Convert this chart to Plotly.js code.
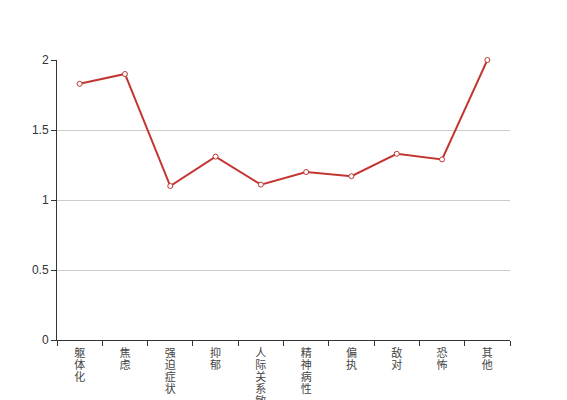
<!DOCTYPE html>
<html>
<head>
<meta charset="utf-8">
<script src="https://cdn.plot.ly/plotly-3.0.1.min.js"></script>
<style>
  html, body { margin: 0; padding: 0; background: #fff; }
  #chart { width: 567px; height: 400px; }
</style>
</head>
<body>
<div id="chart"></div>
<script>
var categories = ["躯体化", "焦虑", "强迫症状", "抑郁", "人际关系敏感", "精神病性", "偏执", "敌对", "恐怖", "其他"];
var values = [1.83, 1.9, 1.1, 1.31, 1.11, 1.2, 1.17, 1.33, 1.29, 2.0];
var yTicks = [0, 0.5, 1, 1.5, 2];

var verticalLabels = categories.map(function (c) { return c.split("").join("<br>"); });

var trace = {
  type: "scatter",
  mode: "lines+markers",
  x: categories,
  y: values,
  line: { color: "#c23531", width: 2 },
  marker: { symbol: "circle", size: 5, color: "#ffffff", line: { color: "#c23531", width: 1 } },
  cliponaxis: false,
  hoverinfo: "x+y"
};

var layout = {
  width: 567,
  height: 400,
  margin: { l: 57, r: 57, t: 60, b: 60, pad: 0 },
  paper_bgcolor: "#ffffff",
  plot_bgcolor: "#ffffff",
  showlegend: false,
  font: { family: "Liberation Sans, Noto Sans CJK SC, sans-serif", size: 12, color: "#333333" },
  xaxis: {
    type: "category",
    tickmode: "array",
    tickvals: categories,
    ticktext: verticalLabels,
    showgrid: false,
    zeroline: false,
    showline: true,
    linecolor: "#333333",
    linewidth: 1,
    ticks: "outside",
    tickson: "boundaries",
    ticklen: 5,
    tickcolor: "#333333",
    ticklabelstandoff: 3,
    tickfont: { family: "Noto Sans CJK SC, sans-serif", size: 11, color: "#444444" },
    range: [-0.5, categories.length - 0.5],
    fixedrange: true
  },
  yaxis: {
    range: [0, 2],
    tickmode: "array",
    tickvals: yTicks,
    ticktext: yTicks.map(String),
    showgrid: true,
    gridcolor: "#cccccc",
    gridwidth: 1,
    zeroline: false,
    showline: true,
    linecolor: "#333333",
    linewidth: 1,
    ticks: "outside",
    ticklen: 5,
    tickcolor: "#333333",
    tickfont: { size: 12, color: "#333333" },
    fixedrange: true
  }
};

Plotly.newPlot("chart", [trace], layout, { displayModeBar: false, staticPlot: true }).then(function () {
  var k = 12 / (11 * 1.3);
  document.querySelectorAll(".xtick text tspan.line").forEach(function (t) {
    var dy = t.getAttribute("dy");
    if (dy && dy.indexOf("em") > 0) {
      t.setAttribute("dy", (parseFloat(dy) * k) + "em");
    }
  });
});
</script>
</body>
</html>
